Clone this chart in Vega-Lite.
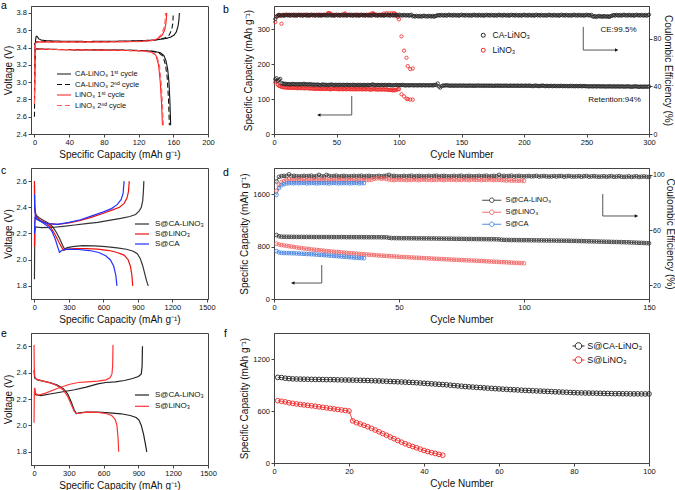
{
"$schema":"https://vega.github.io/schema/vega-lite/v6.json",
"padding":{"left":0,"top":0,"right":0,"bottom":0},
"background":"white",
"bounds":"flush",
"align":"each",
"columns":2,
"spacing":{"row":34,"column":66},
"resolve":{"scale":{"color":"independent","strokeDash":"independent"},"legend":{"color":"independent","strokeDash":"independent"}},
"config":{
 "font":"Liberation Sans",
 "view":{"stroke":"#444","strokeWidth":1},
 "axis":{"grid":false,"tickSize":3,"tickColor":"#444","domainColor":"#444","labelFontSize":7.5,"labelColor":"#111","labelPadding":1.5,"titleFontSize":10,"titleFontWeight":"normal","titleColor":"#111","titlePadding":3,"labelFlush":false,"labelOverlap":false},
 "legend":{"labelColor":"#111","labelFont":"Liberation Sans"},
 "title":{"fontSize":10.5,"fontWeight":"normal","anchor":"start","frame":"group","offset":0,"baseline":"alphabetic","color":"#000"},
 "point":{"opacity":1}
},
"datasets":{
"a":[
{"s":"a1","g":"c","k":1,"x":0,"v":2.85},{"s":"a1","g":"c","k":2,"x":0.5,"v":3.3},{"s":"a1","g":"c","k":3,"x":1.2,"v":3.48},{"s":"a1","g":"c","k":4,"x":2,"v":3.53},{"s":"a1","g":"c","k":5,"x":3,"v":3.53},{"s":"a1","g":"c","k":6,"x":5,"v":3.5},{"s":"a1","g":"c","k":7,"x":8,"v":3.485},{"s":"a1","g":"c","k":8,"x":15,"v":3.478},{"s":"a1","g":"c","k":9,"x":30,"v":3.473},{"s":"a1","g":"c","k":10,"x":60,"v":3.47},{"s":"a1","g":"c","k":11,"x":90,"v":3.472},{"s":"a1","g":"c","k":12,"x":120,"v":3.478},{"s":"a1","g":"c","k":13,"x":135,"v":3.485},{"s":"a1","g":"c","k":14,"x":145,"v":3.495},{"s":"a1","g":"c","k":15,"x":152,"v":3.505},{"s":"a1","g":"c","k":16,"x":157,"v":3.52},{"s":"a1","g":"c","k":17,"x":161,"v":3.545},{"s":"a1","g":"c","k":18,"x":163.5,"v":3.58},{"s":"a1","g":"c","k":19,"x":165.5,"v":3.65},{"s":"a1","g":"c","k":20,"x":166.5,"v":3.72},{"s":"a1","g":"c","k":21,"x":167,"v":3.8},
{"s":"a1","g":"d","k":1,"x":0,"v":3.45},{"s":"a1","g":"d","k":2,"x":0.5,"v":3.4},{"s":"a1","g":"d","k":3,"x":2,"v":3.385},{"s":"a1","g":"d","k":4,"x":10,"v":3.38},{"s":"a1","g":"d","k":5,"x":50,"v":3.375},{"s":"a1","g":"d","k":6,"x":100,"v":3.37},{"s":"a1","g":"d","k":7,"x":125,"v":3.365},{"s":"a1","g":"d","k":8,"x":138,"v":3.355},{"s":"a1","g":"d","k":9,"x":145,"v":3.34},{"s":"a1","g":"d","k":10,"x":149,"v":3.31},{"s":"a1","g":"d","k":11,"x":151.5,"v":3.25},{"s":"a1","g":"d","k":12,"x":153.5,"v":3.15},{"s":"a1","g":"d","k":13,"x":155,"v":3.0},{"s":"a1","g":"d","k":14,"x":156,"v":2.8},{"s":"a1","g":"d","k":15,"x":157,"v":2.5},
{"s":"a2","g":"c","k":1,"x":0,"v":2.6},{"s":"a2","g":"c","k":2,"x":0.4,"v":3.2},{"s":"a2","g":"c","k":3,"x":1.2,"v":3.45},{"s":"a2","g":"c","k":4,"x":3,"v":3.465},{"s":"a2","g":"c","k":5,"x":10,"v":3.468},{"s":"a2","g":"c","k":6,"x":60,"v":3.465},{"s":"a2","g":"c","k":7,"x":110,"v":3.47},{"s":"a2","g":"c","k":8,"x":130,"v":3.478},{"s":"a2","g":"c","k":9,"x":142,"v":3.49},{"s":"a2","g":"c","k":10,"x":150,"v":3.51},{"s":"a2","g":"c","k":11,"x":155,"v":3.54},{"s":"a2","g":"c","k":12,"x":158,"v":3.6},{"s":"a2","g":"c","k":13,"x":159.5,"v":3.68},{"s":"a2","g":"c","k":14,"x":160,"v":3.8},
{"s":"a2","g":"d","k":1,"x":0,"v":3.43},{"s":"a2","g":"d","k":2,"x":0.6,"v":3.39},{"s":"a2","g":"d","k":3,"x":3,"v":3.38},{"s":"a2","g":"d","k":4,"x":50,"v":3.373},{"s":"a2","g":"d","k":5,"x":110,"v":3.368},{"s":"a2","g":"d","k":6,"x":135,"v":3.358},{"s":"a2","g":"d","k":7,"x":143,"v":3.34},{"s":"a2","g":"d","k":8,"x":148,"v":3.3},{"s":"a2","g":"d","k":9,"x":151,"v":3.2},{"s":"a2","g":"d","k":10,"x":153,"v":3.05},{"s":"a2","g":"d","k":11,"x":154.5,"v":2.8},{"s":"a2","g":"d","k":12,"x":155.5,"v":2.5},
{"s":"b1","g":"c","k":1,"x":0,"v":2.75},{"s":"b1","g":"c","k":2,"x":0.4,"v":3.3},{"s":"b1","g":"c","k":3,"x":1.2,"v":3.45},{"s":"b1","g":"c","k":4,"x":3,"v":3.465},{"s":"b1","g":"c","k":5,"x":20,"v":3.465},{"s":"b1","g":"c","k":6,"x":80,"v":3.465},{"s":"b1","g":"c","k":7,"x":120,"v":3.47},{"s":"b1","g":"c","k":8,"x":135,"v":3.48},{"s":"b1","g":"c","k":9,"x":142,"v":3.5},{"s":"b1","g":"c","k":10,"x":147,"v":3.54},{"s":"b1","g":"c","k":11,"x":150,"v":3.6},{"s":"b1","g":"c","k":12,"x":151.5,"v":3.68},{"s":"b1","g":"c","k":13,"x":152.5,"v":3.8},
{"s":"b1","g":"d","k":1,"x":0,"v":3.43},{"s":"b1","g":"d","k":2,"x":0.6,"v":3.39},{"s":"b1","g":"d","k":3,"x":3,"v":3.38},{"s":"b1","g":"d","k":4,"x":50,"v":3.373},{"s":"b1","g":"d","k":5,"x":100,"v":3.367},{"s":"b1","g":"d","k":6,"x":125,"v":3.36},{"s":"b1","g":"d","k":7,"x":135,"v":3.345},{"s":"b1","g":"d","k":8,"x":140,"v":3.31},{"s":"b1","g":"d","k":9,"x":143,"v":3.2},{"s":"b1","g":"d","k":10,"x":145,"v":3.0},{"s":"b1","g":"d","k":11,"x":146.5,"v":2.75},{"s":"b1","g":"d","k":12,"x":147.5,"v":2.5},
{"s":"b2","g":"c","k":1,"x":0,"v":2.75},{"s":"b2","g":"c","k":2,"x":0.4,"v":3.3},{"s":"b2","g":"c","k":3,"x":1.2,"v":3.45},{"s":"b2","g":"c","k":4,"x":3,"v":3.462},{"s":"b2","g":"c","k":5,"x":80,"v":3.463},{"s":"b2","g":"c","k":6,"x":120,"v":3.468},{"s":"b2","g":"c","k":7,"x":134,"v":3.478},{"s":"b2","g":"c","k":8,"x":141,"v":3.5},{"s":"b2","g":"c","k":9,"x":146,"v":3.55},{"s":"b2","g":"c","k":10,"x":149,"v":3.62},{"s":"b2","g":"c","k":11,"x":150.5,"v":3.7},{"s":"b2","g":"c","k":12,"x":151,"v":3.8},
{"s":"b2","g":"d","k":1,"x":0,"v":3.43},{"s":"b2","g":"d","k":2,"x":0.6,"v":3.39},{"s":"b2","g":"d","k":3,"x":3,"v":3.38},{"s":"b2","g":"d","k":4,"x":100,"v":3.368},{"s":"b2","g":"d","k":5,"x":128,"v":3.36},{"s":"b2","g":"d","k":6,"x":137,"v":3.34},{"s":"b2","g":"d","k":7,"x":141,"v":3.3},{"s":"b2","g":"d","k":8,"x":144,"v":3.2},{"s":"b2","g":"d","k":9,"x":146,"v":3.0},{"s":"b2","g":"d","k":10,"x":147.5,"v":2.75},{"s":"b2","g":"d","k":11,"x":148.5,"v":2.5}
],
"c":[
{"s":"A","g":"d","k":1,"x":0,"v":2.57},{"s":"A","g":"d","k":2,"x":2,"v":2.42},{"s":"A","g":"d","k":3,"x":6,"v":2.37},{"s":"A","g":"d","k":4,"x":15,"v":2.34},{"s":"A","g":"d","k":5,"x":40,"v":2.32},{"s":"A","g":"d","k":6,"x":80,"v":2.3},{"s":"A","g":"d","k":7,"x":120,"v":2.28},{"s":"A","g":"d","k":8,"x":160,"v":2.25},{"s":"A","g":"d","k":9,"x":190,"v":2.21},{"s":"A","g":"d","k":10,"x":220,"v":2.16},{"s":"A","g":"d","k":11,"x":245,"v":2.11},{"s":"A","g":"d","k":12,"x":262,"v":2.08},{"s":"A","g":"d","k":13,"x":280,"v":2.09},{"s":"A","g":"d","k":14,"x":330,"v":2.1},{"s":"A","g":"d","k":15,"x":420,"v":2.107},{"s":"A","g":"d","k":16,"x":520,"v":2.105},{"s":"A","g":"d","k":17,"x":620,"v":2.1},{"s":"A","g":"d","k":18,"x":720,"v":2.09},{"s":"A","g":"d","k":19,"x":800,"v":2.08},{"s":"A","g":"d","k":20,"x":860,"v":2.065},{"s":"A","g":"d","k":21,"x":895,"v":2.045},{"s":"A","g":"d","k":22,"x":920,"v":2.01},{"s":"A","g":"d","k":23,"x":940,"v":1.96},{"s":"A","g":"d","k":24,"x":958,"v":1.9},{"s":"A","g":"d","k":25,"x":975,"v":1.84},{"s":"A","g":"d","k":26,"x":990,"v":1.8},
{"s":"A","g":"c","k":1,"x":0,"v":1.85},{"s":"A","g":"c","k":2,"x":1.5,"v":2.05},{"s":"A","g":"c","k":3,"x":3,"v":2.2},{"s":"A","g":"c","k":4,"x":8,"v":2.25},{"s":"A","g":"c","k":5,"x":60,"v":2.245},{"s":"A","g":"c","k":6,"x":150,"v":2.246},{"s":"A","g":"c","k":7,"x":250,"v":2.255},{"s":"A","g":"c","k":8,"x":350,"v":2.265},{"s":"A","g":"c","k":9,"x":450,"v":2.275},{"s":"A","g":"c","k":10,"x":550,"v":2.285},{"s":"A","g":"c","k":11,"x":650,"v":2.3},{"s":"A","g":"c","k":12,"x":750,"v":2.315},{"s":"A","g":"c","k":13,"x":830,"v":2.33},{"s":"A","g":"c","k":14,"x":880,"v":2.345},{"s":"A","g":"c","k":15,"x":910,"v":2.37},{"s":"A","g":"c","k":16,"x":930,"v":2.4},{"s":"A","g":"c","k":17,"x":942,"v":2.45},{"s":"A","g":"c","k":18,"x":948,"v":2.52},{"s":"A","g":"c","k":19,"x":952,"v":2.6},
{"s":"B","g":"d","k":1,"x":0,"v":2.6},{"s":"B","g":"d","k":2,"x":2,"v":2.42},{"s":"B","g":"d","k":3,"x":6,"v":2.36},{"s":"B","g":"d","k":4,"x":15,"v":2.33},{"s":"B","g":"d","k":5,"x":50,"v":2.3},{"s":"B","g":"d","k":6,"x":100,"v":2.28},{"s":"B","g":"d","k":7,"x":140,"v":2.25},{"s":"B","g":"d","k":8,"x":180,"v":2.19},{"s":"B","g":"d","k":9,"x":215,"v":2.13},{"s":"B","g":"d","k":10,"x":240,"v":2.09},{"s":"B","g":"d","k":11,"x":255,"v":2.07},{"s":"B","g":"d","k":12,"x":275,"v":2.08},{"s":"B","g":"d","k":13,"x":350,"v":2.085},{"s":"B","g":"d","k":14,"x":450,"v":2.085},{"s":"B","g":"d","k":15,"x":550,"v":2.08},{"s":"B","g":"d","k":16,"x":650,"v":2.07},{"s":"B","g":"d","k":17,"x":720,"v":2.055},{"s":"B","g":"d","k":18,"x":780,"v":2.035},{"s":"B","g":"d","k":19,"x":815,"v":2.0},{"s":"B","g":"d","k":20,"x":835,"v":1.95},{"s":"B","g":"d","k":21,"x":848,"v":1.88},{"s":"B","g":"d","k":22,"x":855,"v":1.8},
{"s":"B","g":"c","k":1,"x":0,"v":2.1},{"s":"B","g":"c","k":2,"x":2,"v":2.25},{"s":"B","g":"c","k":3,"x":6,"v":2.32},{"s":"B","g":"c","k":4,"x":20,"v":2.31},{"s":"B","g":"c","k":5,"x":60,"v":2.29},{"s":"B","g":"c","k":6,"x":120,"v":2.275},{"s":"B","g":"c","k":7,"x":200,"v":2.27},{"s":"B","g":"c","k":8,"x":300,"v":2.28},{"s":"B","g":"c","k":9,"x":400,"v":2.3},{"s":"B","g":"c","k":10,"x":500,"v":2.325},{"s":"B","g":"c","k":11,"x":600,"v":2.355},{"s":"B","g":"c","k":12,"x":680,"v":2.38},{"s":"B","g":"c","k":13,"x":740,"v":2.4},{"s":"B","g":"c","k":14,"x":780,"v":2.43},{"s":"B","g":"c","k":15,"x":805,"v":2.47},{"s":"B","g":"c","k":16,"x":818,"v":2.52},{"s":"B","g":"c","k":17,"x":825,"v":2.6},
{"s":"C","g":"d","k":1,"x":0,"v":2.5},{"s":"C","g":"d","k":2,"x":2,"v":2.4},{"s":"C","g":"d","k":3,"x":6,"v":2.35},{"s":"C","g":"d","k":4,"x":20,"v":2.31},{"s":"C","g":"d","k":5,"x":60,"v":2.29},{"s":"C","g":"d","k":6,"x":110,"v":2.26},{"s":"C","g":"d","k":7,"x":150,"v":2.22},{"s":"C","g":"d","k":8,"x":180,"v":2.16},{"s":"C","g":"d","k":9,"x":205,"v":2.09},{"s":"C","g":"d","k":10,"x":218,"v":2.055},{"s":"C","g":"d","k":11,"x":235,"v":2.07},{"s":"C","g":"d","k":12,"x":280,"v":2.08},{"s":"C","g":"d","k":13,"x":380,"v":2.078},{"s":"C","g":"d","k":14,"x":480,"v":2.07},{"s":"C","g":"d","k":15,"x":560,"v":2.055},{"s":"C","g":"d","k":16,"x":620,"v":2.03},{"s":"C","g":"d","k":17,"x":660,"v":2.0},{"s":"C","g":"d","k":18,"x":690,"v":1.95},{"s":"C","g":"d","k":19,"x":708,"v":1.88},{"s":"C","g":"d","k":20,"x":718,"v":1.8},
{"s":"C","g":"c","k":1,"x":0,"v":2.2},{"s":"C","g":"c","k":2,"x":2,"v":2.27},{"s":"C","g":"c","k":3,"x":6,"v":2.33},{"s":"C","g":"c","k":4,"x":20,"v":2.31},{"s":"C","g":"c","k":5,"x":60,"v":2.29},{"s":"C","g":"c","k":6,"x":120,"v":2.275},{"s":"C","g":"c","k":7,"x":200,"v":2.27},{"s":"C","g":"c","k":8,"x":300,"v":2.285},{"s":"C","g":"c","k":9,"x":400,"v":2.305},{"s":"C","g":"c","k":10,"x":500,"v":2.335},{"s":"C","g":"c","k":11,"x":600,"v":2.365},{"s":"C","g":"c","k":12,"x":670,"v":2.39},{"s":"C","g":"c","k":13,"x":720,"v":2.42},{"s":"C","g":"c","k":14,"x":755,"v":2.46},{"s":"C","g":"c","k":15,"x":772,"v":2.51},{"s":"C","g":"c","k":16,"x":780,"v":2.6}
],
"e":[
{"s":"A","g":"d","k":1,"x":0,"v":2.42},{"s":"A","g":"d","k":2,"x":5,"v":2.36},{"s":"A","g":"d","k":3,"x":30,"v":2.345},{"s":"A","g":"d","k":4,"x":80,"v":2.335},{"s":"A","g":"d","k":5,"x":150,"v":2.32},{"s":"A","g":"d","k":6,"x":200,"v":2.305},{"s":"A","g":"d","k":7,"x":250,"v":2.28},{"s":"A","g":"d","k":8,"x":290,"v":2.24},{"s":"A","g":"d","k":9,"x":320,"v":2.18},{"s":"A","g":"d","k":10,"x":345,"v":2.12},{"s":"A","g":"d","k":11,"x":365,"v":2.09},{"s":"A","g":"d","k":12,"x":390,"v":2.095},{"s":"A","g":"d","k":13,"x":450,"v":2.1},{"s":"A","g":"d","k":14,"x":550,"v":2.1},{"s":"A","g":"d","k":15,"x":650,"v":2.095},{"s":"A","g":"d","k":16,"x":750,"v":2.088},{"s":"A","g":"d","k":17,"x":830,"v":2.075},{"s":"A","g":"d","k":18,"x":880,"v":2.06},{"s":"A","g":"d","k":19,"x":905,"v":2.04},{"s":"A","g":"d","k":20,"x":925,"v":2.0},{"s":"A","g":"d","k":21,"x":945,"v":1.93},{"s":"A","g":"d","k":22,"x":960,"v":1.86},{"s":"A","g":"d","k":23,"x":972,"v":1.8},
{"s":"A","g":"c","k":1,"x":0,"v":2.24},{"s":"A","g":"c","k":2,"x":20,"v":2.23},{"s":"A","g":"c","k":3,"x":60,"v":2.225},{"s":"A","g":"c","k":4,"x":150,"v":2.24},{"s":"A","g":"c","k":5,"x":250,"v":2.255},{"s":"A","g":"c","k":6,"x":350,"v":2.27},{"s":"A","g":"c","k":7,"x":450,"v":2.29},{"s":"A","g":"c","k":8,"x":550,"v":2.315},{"s":"A","g":"c","k":9,"x":620,"v":2.325},{"s":"A","g":"c","k":10,"x":700,"v":2.33},{"s":"A","g":"c","k":11,"x":780,"v":2.34},{"s":"A","g":"c","k":12,"x":850,"v":2.355},{"s":"A","g":"c","k":13,"x":900,"v":2.37},{"s":"A","g":"c","k":14,"x":925,"v":2.39},{"s":"A","g":"c","k":15,"x":932,"v":2.45},{"s":"A","g":"c","k":16,"x":935,"v":2.6},
{"s":"B","g":"d","k":1,"x":0,"v":2.61},{"s":"B","g":"d","k":2,"x":2,"v":2.45},{"s":"B","g":"d","k":3,"x":6,"v":2.37},{"s":"B","g":"d","k":4,"x":20,"v":2.35},{"s":"B","g":"d","k":5,"x":80,"v":2.335},{"s":"B","g":"d","k":6,"x":150,"v":2.32},{"s":"B","g":"d","k":7,"x":200,"v":2.3},{"s":"B","g":"d","k":8,"x":250,"v":2.27},{"s":"B","g":"d","k":9,"x":290,"v":2.22},{"s":"B","g":"d","k":10,"x":320,"v":2.16},{"s":"B","g":"d","k":11,"x":345,"v":2.11},{"s":"B","g":"d","k":12,"x":362,"v":2.09},{"s":"B","g":"d","k":13,"x":380,"v":2.09},{"s":"B","g":"d","k":14,"x":450,"v":2.1},{"s":"B","g":"d","k":15,"x":550,"v":2.098},{"s":"B","g":"d","k":16,"x":620,"v":2.09},{"s":"B","g":"d","k":17,"x":670,"v":2.075},{"s":"B","g":"d","k":18,"x":700,"v":2.045},{"s":"B","g":"d","k":19,"x":715,"v":2.0},{"s":"B","g":"d","k":20,"x":725,"v":1.9},{"s":"B","g":"d","k":21,"x":730,"v":1.8},
{"s":"B","g":"c","k":1,"x":0,"v":2.02},{"s":"B","g":"c","k":2,"x":2,"v":2.2},{"s":"B","g":"c","k":3,"x":4,"v":2.28},{"s":"B","g":"c","k":4,"x":8,"v":2.28},{"s":"B","g":"c","k":5,"x":15,"v":2.24},{"s":"B","g":"c","k":6,"x":40,"v":2.23},{"s":"B","g":"c","k":7,"x":100,"v":2.245},{"s":"B","g":"c","k":8,"x":200,"v":2.28},{"s":"B","g":"c","k":9,"x":300,"v":2.31},{"s":"B","g":"c","k":10,"x":380,"v":2.325},{"s":"B","g":"c","k":11,"x":460,"v":2.33},{"s":"B","g":"c","k":12,"x":550,"v":2.335},{"s":"B","g":"c","k":13,"x":620,"v":2.345},{"s":"B","g":"c","k":14,"x":655,"v":2.36},{"s":"B","g":"c","k":15,"x":672,"v":2.39},{"s":"B","g":"c","k":16,"x":678,"v":2.45},{"s":"B","g":"c","k":17,"x":681,"v":2.61}
],
"b":[
{"n":1,"s":"B","c":148,"e":94},{"n":2,"s":"B","c":151,"e":98.5},{"n":3,"s":"B","c":141,"e":99.5},{"n":4,"s":"B","c":138,"e":99.8},{"n":5,"s":"B","c":137,"e":99.2},{"n":6,"s":"B","c":135,"e":92.6},{"n":7,"s":"B","c":134,"e":99.7},{"n":8,"s":"B","c":134,"e":100.1},{"n":9,"s":"B","c":133,"e":99.9},{"n":10,"s":"B","c":133,"e":100},
{"n":11,"s":"B","c":133,"e":99.8},{"n":12,"s":"B","c":132,"e":100.2},{"n":13,"s":"B","c":133,"e":99.6},{"n":14,"s":"B","c":132,"e":100},{"n":15,"s":"B","c":132,"e":99.9},{"n":16,"s":"B","c":133,"e":100.3},{"n":17,"s":"B","c":132,"e":99.7},{"n":18,"s":"B","c":132,"e":100.1},{"n":19,"s":"B","c":131,"e":99.9},{"n":20,"s":"B","c":132,"e":100},
{"n":21,"s":"B","c":132,"e":99.8},{"n":22,"s":"B","c":131,"e":100.2},{"n":23,"s":"B","c":132,"e":99.6},{"n":24,"s":"B","c":131,"e":100},{"n":25,"s":"B","c":131,"e":99.9},{"n":26,"s":"B","c":132,"e":100.3},{"n":27,"s":"B","c":131,"e":99.7},{"n":28,"s":"B","c":131,"e":100.1},{"n":29,"s":"B","c":130,"e":99.9},{"n":30,"s":"B","c":131,"e":100},
{"n":31,"s":"B","c":130,"e":99.8},{"n":32,"s":"B","c":130,"e":100.2},{"n":33,"s":"B","c":129,"e":99.6},{"n":34,"s":"B","c":130,"e":100},{"n":35,"s":"B","c":129,"e":99.9},{"n":36,"s":"B","c":130,"e":100.3},{"n":37,"s":"B","c":129,"e":99.7},{"n":38,"s":"B","c":129,"e":100.1},{"n":39,"s":"B","c":130,"e":99.9},{"n":40,"s":"B","c":129,"e":100},
{"n":41,"s":"B","c":129,"e":99.8},{"n":42,"s":"B","c":130,"e":100.2},{"n":43,"s":"B","c":129,"e":101.3},{"n":44,"s":"B","c":129,"e":101.6},{"n":45,"s":"B","c":128,"e":101.2},{"n":46,"s":"B","c":129,"e":100.3},{"n":47,"s":"B","c":129,"e":99.7},{"n":48,"s":"B","c":130,"e":100.1},{"n":49,"s":"B","c":129,"e":99.9},{"n":50,"s":"B","c":129,"e":100},
{"n":51,"s":"B","c":129,"e":99.8},{"n":52,"s":"B","c":128,"e":100.2},{"n":53,"s":"B","c":129,"e":99.6},{"n":54,"s":"B","c":129,"e":100},{"n":55,"s":"B","c":128,"e":99.9},{"n":56,"s":"B","c":129,"e":101},{"n":57,"s":"B","c":129,"e":101.2},{"n":58,"s":"B","c":128,"e":100.1},{"n":59,"s":"B","c":129,"e":99.9},{"n":60,"s":"B","c":129,"e":100},
{"n":61,"s":"B","c":128,"e":99.8},{"n":62,"s":"B","c":129,"e":100.2},{"n":63,"s":"B","c":128,"e":99.6},{"n":64,"s":"B","c":129,"e":100},{"n":65,"s":"B","c":128,"e":99.9},{"n":66,"s":"B","c":128,"e":100.3},{"n":67,"s":"B","c":129,"e":99.7},{"n":68,"s":"B","c":128,"e":100.1},{"n":69,"s":"B","c":129,"e":99.9},{"n":70,"s":"B","c":128,"e":100},
{"n":71,"s":"B","c":128,"e":99.8},{"n":72,"s":"B","c":129,"e":100.2},{"n":73,"s":"B","c":128,"e":99.6},{"n":74,"s":"B","c":128,"e":100},{"n":75,"s":"B","c":129,"e":99.9},{"n":76,"s":"B","c":128,"e":100.3},{"n":77,"s":"B","c":127,"e":99.7},{"n":78,"s":"B","c":128,"e":101.1},{"n":79,"s":"B","c":128,"e":101.4},{"n":80,"s":"B","c":129,"e":101},
{"n":81,"s":"B","c":128,"e":99.8},{"n":82,"s":"B","c":128,"e":100.2},{"n":83,"s":"B","c":127,"e":99.6},{"n":84,"s":"B","c":128,"e":100},{"n":85,"s":"B","c":128,"e":99.9},{"n":86,"s":"B","c":127,"e":100.3},{"n":87,"s":"B","c":128,"e":99.7},{"n":88,"s":"B","c":128,"e":101.2},{"n":89,"s":"B","c":127,"e":99.9},{"n":90,"s":"B","c":128,"e":101.4},
{"n":91,"s":"B","c":127,"e":99.8},{"n":92,"s":"B","c":126,"e":101.3},{"n":93,"s":"B","c":127,"e":99.6},{"n":94,"s":"B","c":126,"e":101.5},{"n":95,"s":"B","c":125,"e":99.9},{"n":96,"s":"B","c":126,"e":101.4},{"n":97,"s":"B","c":125,"e":101},{"n":98,"s":"B","c":127,"e":100.1},{"n":99,"s":"B","c":128,"e":98.3},{"n":100,"s":"B","c":128.6,"e":96.3},
{"n":102,"s":"B","c":114,"e":82},{"n":104,"s":"B","c":108,"e":70},{"n":106,"s":"B","c":101.5,"e":64},{"n":107,"s":"B","c":100,"e":57},{"n":109,"s":"B","c":98.6,"e":54.5},{"n":111,"s":"B","c":98.6,"e":55},
{"n":1,"s":"A","c":157,"e":96.5},{"n":2,"s":"A","c":160,"e":98.6},{"n":3,"s":"A","c":152,"e":99.4},{"n":4,"s":"A","c":155,"e":100.1},{"n":5,"s":"A","c":158,"e":99.7},{"n":6,"s":"A","c":146,"e":99.5},{"n":7,"s":"A","c":145,"e":100},{"n":8,"s":"A","c":144,"e":99.3},{"n":9,"s":"A","c":144,"e":99.8},{"n":10,"s":"A","c":143,"e":100.2},
{"n":11,"s":"A","c":143,"e":99.6},{"n":12,"s":"A","c":143,"e":99.9},{"n":13,"s":"A","c":142,"e":99.4},{"n":14,"s":"A","c":143,"e":100.1},{"n":15,"s":"A","c":144,"e":99.7},{"n":16,"s":"A","c":143,"e":99.5},{"n":17,"s":"A","c":142,"e":100},{"n":18,"s":"A","c":143,"e":99.3},{"n":19,"s":"A","c":143,"e":99.8},{"n":20,"s":"A","c":142,"e":100.2},
{"n":21,"s":"A","c":143,"e":99.6},{"n":22,"s":"A","c":142,"e":99.9},{"n":23,"s":"A","c":143,"e":99.4},{"n":24,"s":"A","c":144,"e":100.1},{"n":25,"s":"A","c":142,"e":99.7},{"n":26,"s":"A","c":143,"e":99.5},{"n":27,"s":"A","c":142,"e":100},{"n":28,"s":"A","c":142,"e":99.3},{"n":29,"s":"A","c":143,"e":99.8},{"n":30,"s":"A","c":142,"e":100.2},
{"n":31,"s":"A","c":141,"e":99.6},{"n":32,"s":"A","c":142,"e":99.9},{"n":33,"s":"A","c":141,"e":99.4},{"n":34,"s":"A","c":141,"e":100.1},{"n":35,"s":"A","c":142,"e":99.7},{"n":36,"s":"A","c":141,"e":99.5},{"n":37,"s":"A","c":140,"e":100},{"n":38,"s":"A","c":141,"e":99.3},{"n":39,"s":"A","c":142,"e":99.8},{"n":40,"s":"A","c":141,"e":100.2},
{"n":41,"s":"A","c":141,"e":99.6},{"n":42,"s":"A","c":141,"e":99.9},{"n":43,"s":"A","c":140,"e":99.4},{"n":44,"s":"A","c":141,"e":100.1},{"n":45,"s":"A","c":141,"e":99.7},{"n":46,"s":"A","c":142,"e":99.5},{"n":47,"s":"A","c":141,"e":100},{"n":48,"s":"A","c":140,"e":99.3},{"n":49,"s":"A","c":141,"e":99.8},{"n":50,"s":"A","c":141,"e":100.2},
{"n":51,"s":"A","c":140,"e":99.6},{"n":52,"s":"A","c":141,"e":99.9},{"n":53,"s":"A","c":141,"e":99.4},{"n":54,"s":"A","c":140,"e":100.1},{"n":55,"s":"A","c":141,"e":99.7},{"n":56,"s":"A","c":141,"e":99.5},{"n":57,"s":"A","c":140,"e":100},{"n":58,"s":"A","c":141,"e":99.3},{"n":59,"s":"A","c":141,"e":99.8},{"n":60,"s":"A","c":140,"e":100.2},
{"n":61,"s":"A","c":141,"e":99.6},{"n":62,"s":"A","c":140,"e":99.9},{"n":63,"s":"A","c":141,"e":99.4},{"n":64,"s":"A","c":141,"e":100.1},{"n":65,"s":"A","c":140,"e":99.7},{"n":66,"s":"A","c":140,"e":99.5},{"n":67,"s":"A","c":141,"e":100},{"n":68,"s":"A","c":140,"e":99.3},{"n":69,"s":"A","c":141,"e":99.8},{"n":70,"s":"A","c":140,"e":100.2},
{"n":71,"s":"A","c":140,"e":99.6},{"n":72,"s":"A","c":141,"e":99.9},{"n":73,"s":"A","c":140,"e":99.4},{"n":74,"s":"A","c":140,"e":100.1},{"n":75,"s":"A","c":141,"e":99.7},{"n":76,"s":"A","c":140,"e":99.5},{"n":77,"s":"A","c":140,"e":100},{"n":78,"s":"A","c":141,"e":99.3},{"n":79,"s":"A","c":142,"e":99.8},{"n":80,"s":"A","c":141,"e":100.2},
{"n":81,"s":"A","c":140,"e":99.6},{"n":82,"s":"A","c":140,"e":99.9},{"n":83,"s":"A","c":141,"e":99.4},{"n":84,"s":"A","c":140,"e":100.1},{"n":85,"s":"A","c":140,"e":99.7},{"n":86,"s":"A","c":141,"e":99.5},{"n":87,"s":"A","c":140,"e":100},{"n":88,"s":"A","c":140,"e":99.3},{"n":89,"s":"A","c":141,"e":99.8},{"n":90,"s":"A","c":140,"e":100.2},
{"n":91,"s":"A","c":140,"e":99.6},{"n":92,"s":"A","c":141,"e":99.9},{"n":93,"s":"A","c":140,"e":99.4},{"n":94,"s":"A","c":140,"e":100.1},{"n":95,"s":"A","c":139,"e":99.7},{"n":96,"s":"A","c":140,"e":99.5},{"n":97,"s":"A","c":140,"e":100},{"n":98,"s":"A","c":141,"e":99.3},{"n":99,"s":"A","c":140,"e":99.8},{"n":100,"s":"A","c":140,"e":100.2},
{"n":101,"s":"A","c":140,"e":99.6},{"n":102,"s":"A","c":140,"e":99.9},{"n":103,"s":"A","c":141,"e":99.4},{"n":104,"s":"A","c":140,"e":100.1},{"n":105,"s":"A","c":139,"e":99.7},{"n":106,"s":"A","c":140,"e":99.5},{"n":107,"s":"A","c":140,"e":100},{"n":108,"s":"A","c":139,"e":99.3},{"n":109,"s":"A","c":140,"e":99.8},{"n":110,"s":"A","c":140,"e":100.2},
{"n":111,"s":"A","c":140,"e":98.8},{"n":112,"s":"A","c":139,"e":99.1},{"n":113,"s":"A","c":140,"e":98.6},{"n":114,"s":"A","c":140,"e":99.3},{"n":115,"s":"A","c":139,"e":98.9},{"n":116,"s":"A","c":140,"e":98.7},{"n":117,"s":"A","c":140,"e":99.2},{"n":118,"s":"A","c":139,"e":98.5},{"n":119,"s":"A","c":140,"e":99},{"n":120,"s":"A","c":140,"e":99.4},
{"n":121,"s":"A","c":139,"e":98.8},{"n":122,"s":"A","c":140,"e":99.1},{"n":123,"s":"A","c":140,"e":98.6},{"n":124,"s":"A","c":139,"e":99.3},{"n":125,"s":"A","c":140,"e":98.9},{"n":126,"s":"A","c":140,"e":98.7},{"n":127,"s":"A","c":139,"e":99.2},{"n":128,"s":"A","c":140,"e":98.5},{"n":129,"s":"A","c":141,"e":99},{"n":130,"s":"A","c":140,"e":99.4},
{"n":131,"s":"A","c":145,"e":99.6},{"n":132,"s":"A","c":136,"e":99.9},{"n":133,"s":"A","c":133,"e":99.4},{"n":134,"s":"A","c":137,"e":100.1},{"n":135,"s":"A","c":139,"e":99.7},{"n":136,"s":"A","c":139,"e":99.5},{"n":137,"s":"A","c":139,"e":100},{"n":138,"s":"A","c":140,"e":99.3},{"n":139,"s":"A","c":139,"e":99.8},{"n":140,"s":"A","c":139,"e":100.2},
{"n":141,"s":"A","c":138,"e":99.6},{"n":142,"s":"A","c":139,"e":99.9},{"n":143,"s":"A","c":139,"e":99.4},{"n":144,"s":"A","c":138,"e":100.1},{"n":145,"s":"A","c":139,"e":99.7},{"n":146,"s":"A","c":139,"e":99.5},{"n":147,"s":"A","c":138,"e":100},{"n":148,"s":"A","c":139,"e":99.3},{"n":149,"s":"A","c":139,"e":99.8},{"n":150,"s":"A","c":138,"e":100.2},
{"n":151,"s":"A","c":139,"e":99.6},{"n":152,"s":"A","c":139,"e":99.9},{"n":153,"s":"A","c":138,"e":99.4},{"n":154,"s":"A","c":139,"e":100.1},{"n":155,"s":"A","c":138,"e":99.7},{"n":156,"s":"A","c":139,"e":99.5},{"n":157,"s":"A","c":139,"e":100},{"n":158,"s":"A","c":138,"e":99.3},{"n":159,"s":"A","c":139,"e":99.8},{"n":160,"s":"A","c":138,"e":100.2},
{"n":161,"s":"A","c":139,"e":99.6},{"n":162,"s":"A","c":138,"e":99.9},{"n":163,"s":"A","c":139,"e":99.4},{"n":164,"s":"A","c":139,"e":100.1},{"n":165,"s":"A","c":138,"e":99.7},{"n":166,"s":"A","c":139,"e":99.5},{"n":167,"s":"A","c":138,"e":100},{"n":168,"s":"A","c":139,"e":99.3},{"n":169,"s":"A","c":138,"e":99.8},{"n":170,"s":"A","c":139,"e":100.2},
{"n":171,"s":"A","c":138,"e":99.6},{"n":172,"s":"A","c":139,"e":99.9},{"n":173,"s":"A","c":138,"e":99.4},{"n":174,"s":"A","c":139,"e":100.1},{"n":175,"s":"A","c":138,"e":99.7},{"n":176,"s":"A","c":138,"e":99.5},{"n":177,"s":"A","c":139,"e":100},{"n":178,"s":"A","c":138,"e":99.3},{"n":179,"s":"A","c":139,"e":99.8},{"n":180,"s":"A","c":138,"e":100.2},
{"n":181,"s":"A","c":139,"e":99.6},{"n":182,"s":"A","c":138,"e":99.9},{"n":183,"s":"A","c":138,"e":99.4},{"n":184,"s":"A","c":139,"e":100.1},{"n":185,"s":"A","c":138,"e":99.7},{"n":186,"s":"A","c":139,"e":99.5},{"n":187,"s":"A","c":138,"e":100},{"n":188,"s":"A","c":138,"e":99.3},{"n":189,"s":"A","c":139,"e":99.8},{"n":190,"s":"A","c":138,"e":100.2},
{"n":191,"s":"A","c":138,"e":99.6},{"n":192,"s":"A","c":139,"e":99.9},{"n":193,"s":"A","c":138,"e":99.4},{"n":194,"s":"A","c":138,"e":100.1},{"n":195,"s":"A","c":139,"e":99.7},{"n":196,"s":"A","c":138,"e":99.5},{"n":197,"s":"A","c":138,"e":100},{"n":198,"s":"A","c":139,"e":99.3},{"n":199,"s":"A","c":138,"e":99.8},{"n":200,"s":"A","c":138,"e":100.2},
{"n":201,"s":"A","c":139,"e":99.6},{"n":202,"s":"A","c":138,"e":99.9},{"n":203,"s":"A","c":138,"e":99.4},{"n":204,"s":"A","c":139,"e":100.1},{"n":205,"s":"A","c":138,"e":99.7},{"n":206,"s":"A","c":138,"e":99.5},{"n":207,"s":"A","c":137,"e":100},{"n":208,"s":"A","c":138,"e":99.3},{"n":209,"s":"A","c":139,"e":99.8},{"n":210,"s":"A","c":138,"e":100.2},
{"n":211,"s":"A","c":138,"e":99.6},{"n":212,"s":"A","c":137,"e":99.9},{"n":213,"s":"A","c":138,"e":99.4},{"n":214,"s":"A","c":138,"e":100.1},{"n":215,"s":"A","c":139,"e":99.7},{"n":216,"s":"A","c":138,"e":99.5},{"n":217,"s":"A","c":137,"e":100},{"n":218,"s":"A","c":138,"e":99.3},{"n":219,"s":"A","c":138,"e":99.8},{"n":220,"s":"A","c":137,"e":100.2},
{"n":221,"s":"A","c":138,"e":99.6},{"n":222,"s":"A","c":138,"e":99.9},{"n":223,"s":"A","c":137,"e":99.4},{"n":224,"s":"A","c":138,"e":100.1},{"n":225,"s":"A","c":138,"e":99.7},{"n":226,"s":"A","c":137,"e":99.5},{"n":227,"s":"A","c":138,"e":100},{"n":228,"s":"A","c":137,"e":99.3},{"n":229,"s":"A","c":138,"e":99.8},{"n":230,"s":"A","c":138,"e":100.2},
{"n":231,"s":"A","c":137,"e":99.6},{"n":232,"s":"A","c":138,"e":99.9},{"n":233,"s":"A","c":137,"e":99.4},{"n":234,"s":"A","c":138,"e":100.1},{"n":235,"s":"A","c":137,"e":99.7},{"n":236,"s":"A","c":137,"e":99.5},{"n":237,"s":"A","c":138,"e":100},{"n":238,"s":"A","c":137,"e":99.3},{"n":239,"s":"A","c":138,"e":99.8},{"n":240,"s":"A","c":137,"e":100.2},
{"n":241,"s":"A","c":137,"e":99.6},{"n":242,"s":"A","c":138,"e":99.9},{"n":243,"s":"A","c":137,"e":99.4},{"n":244,"s":"A","c":137,"e":100.1},{"n":245,"s":"A","c":138,"e":99.7},{"n":246,"s":"A","c":137,"e":99.5},{"n":247,"s":"A","c":137,"e":100},{"n":248,"s":"A","c":138,"e":99.3},{"n":249,"s":"A","c":137,"e":99.8},{"n":250,"s":"A","c":137,"e":100.2},
{"n":251,"s":"A","c":137,"e":99.6},{"n":252,"s":"A","c":136,"e":99.9},{"n":253,"s":"A","c":137,"e":99.4},{"n":254,"s":"A","c":137,"e":100.1},{"n":255,"s":"A","c":136,"e":98.7},{"n":256,"s":"A","c":137,"e":98.5},{"n":257,"s":"A","c":137,"e":99},{"n":258,"s":"A","c":136,"e":98.3},{"n":259,"s":"A","c":137,"e":98.8},{"n":260,"s":"A","c":137,"e":99.2},
{"n":261,"s":"A","c":136,"e":98.6},{"n":262,"s":"A","c":137,"e":98.9},{"n":263,"s":"A","c":136,"e":98.4},{"n":264,"s":"A","c":137,"e":99.1},{"n":265,"s":"A","c":136,"e":98.7},{"n":266,"s":"A","c":136,"e":98.5},{"n":267,"s":"A","c":137,"e":99},{"n":268,"s":"A","c":136,"e":98.3},{"n":269,"s":"A","c":137,"e":98.8},{"n":270,"s":"A","c":136,"e":99.2},
{"n":271,"s":"A","c":136,"e":99.6},{"n":272,"s":"A","c":137,"e":99.9},{"n":273,"s":"A","c":136,"e":99.4},{"n":274,"s":"A","c":136,"e":100.1},{"n":275,"s":"A","c":137,"e":99.7},{"n":276,"s":"A","c":136,"e":99.5},{"n":277,"s":"A","c":136,"e":100},{"n":278,"s":"A","c":137,"e":99.3},{"n":279,"s":"A","c":136,"e":99.8},{"n":280,"s":"A","c":136,"e":100.2},
{"n":281,"s":"A","c":136,"e":99.6},{"n":282,"s":"A","c":136,"e":99.9},{"n":283,"s":"A","c":137,"e":99.4},{"n":284,"s":"A","c":136,"e":100.1},{"n":285,"s":"A","c":136,"e":99.7},{"n":286,"s":"A","c":135,"e":99.5},{"n":287,"s":"A","c":136,"e":100},{"n":288,"s":"A","c":136,"e":99.3},{"n":289,"s":"A","c":137,"e":99.8},{"n":290,"s":"A","c":136,"e":100.2},
{"n":291,"s":"A","c":136,"e":99.6},{"n":292,"s":"A","c":135,"e":99.9},{"n":293,"s":"A","c":136,"e":99.4},{"n":294,"s":"A","c":136,"e":100.1},{"n":295,"s":"A","c":135,"e":99.7},{"n":296,"s":"A","c":136,"e":99.5},{"n":297,"s":"A","c":136,"e":100},{"n":298,"s":"A","c":135,"e":99.3},{"n":299,"s":"A","c":136,"e":99.8},{"n":300,"s":"A","c":136,"e":100.2}
],
"d":[
{"n":1,"s":"A","c":977,"e":95.3},{"n":2,"s":"A","c":958,"e":98.6},{"n":3,"s":"A","c":952,"e":99.1},{"n":4,"s":"A","c":950,"e":99.3},{"n":5,"s":"A","c":950,"e":99.2},{"n":6,"s":"A","c":949,"e":100.4},{"n":7,"s":"A","c":949,"e":99.1},{"n":8,"s":"A","c":948,"e":99.3},{"n":9,"s":"A","c":948,"e":99},{"n":10,"s":"A","c":948,"e":98.9},
{"n":11,"s":"A","c":948,"e":99},{"n":12,"s":"A","c":947,"e":99.3},{"n":13,"s":"A","c":947,"e":98.9},{"n":14,"s":"A","c":947,"e":99.2},{"n":15,"s":"A","c":947,"e":99.4},{"n":16,"s":"A","c":946,"e":98.8},{"n":17,"s":"A","c":946,"e":99.1},{"n":18,"s":"A","c":946,"e":100},{"n":19,"s":"A","c":946,"e":99},{"n":20,"s":"A","c":946,"e":98.9},
{"n":21,"s":"A","c":946,"e":100},{"n":22,"s":"A","c":945,"e":99.3},{"n":23,"s":"A","c":945,"e":98.9},{"n":24,"s":"A","c":945,"e":99.2},{"n":25,"s":"A","c":945,"e":99.4},{"n":26,"s":"A","c":945,"e":98.8},{"n":27,"s":"A","c":945,"e":99.1},{"n":28,"s":"A","c":945,"e":99.3},{"n":29,"s":"A","c":944,"e":99},{"n":30,"s":"A","c":944,"e":98.9},
{"n":31,"s":"A","c":944,"e":99},{"n":32,"s":"A","c":944,"e":99.3},{"n":33,"s":"A","c":944,"e":98.9},{"n":34,"s":"A","c":944,"e":99.2},{"n":35,"s":"A","c":944,"e":99.4},{"n":36,"s":"A","c":943,"e":98.8},{"n":37,"s":"A","c":943,"e":99.1},{"n":38,"s":"A","c":943,"e":99.3},{"n":39,"s":"A","c":943,"e":99},{"n":40,"s":"A","c":943,"e":98.9},
{"n":41,"s":"A","c":943,"e":99},{"n":42,"s":"A","c":943,"e":99.3},{"n":43,"s":"A","c":942,"e":98.9},{"n":44,"s":"A","c":942,"e":99.2},{"n":45,"s":"A","c":942,"e":99.4},{"n":46,"s":"A","c":935,"e":100},{"n":47,"s":"A","c":930,"e":99.1},{"n":48,"s":"A","c":930,"e":99.3},{"n":49,"s":"A","c":929,"e":99},{"n":50,"s":"A","c":929,"e":98.9},
{"n":51,"s":"A","c":928,"e":99},{"n":52,"s":"A","c":928,"e":99.3},{"n":53,"s":"A","c":928,"e":98.9},{"n":54,"s":"A","c":927,"e":99.2},{"n":55,"s":"A","c":927,"e":99.4},{"n":56,"s":"A","c":927,"e":98.8},{"n":57,"s":"A","c":926,"e":99.1},{"n":58,"s":"A","c":926,"e":99.3},{"n":59,"s":"A","c":926,"e":99},{"n":60,"s":"A","c":925,"e":98.9},
{"n":61,"s":"A","c":925,"e":99},{"n":62,"s":"A","c":925,"e":99.3},{"n":63,"s":"A","c":924,"e":98.9},{"n":64,"s":"A","c":924,"e":99.2},{"n":65,"s":"A","c":923,"e":99.4},{"n":66,"s":"A","c":923,"e":98.8},{"n":67,"s":"A","c":922,"e":99.1},{"n":68,"s":"A","c":922,"e":99.3},{"n":69,"s":"A","c":921,"e":99},{"n":70,"s":"A","c":921,"e":98.9},
{"n":71,"s":"A","c":920,"e":99},{"n":72,"s":"A","c":920,"e":99.3},{"n":73,"s":"A","c":919,"e":98.9},{"n":74,"s":"A","c":919,"e":99.2},{"n":75,"s":"A","c":918,"e":99.4},{"n":76,"s":"A","c":918,"e":98.8},{"n":77,"s":"A","c":917,"e":99.1},{"n":78,"s":"A","c":917,"e":99.3},{"n":79,"s":"A","c":916,"e":99},{"n":80,"s":"A","c":916,"e":98.9},
{"n":81,"s":"A","c":915,"e":99},{"n":82,"s":"A","c":915,"e":99.3},{"n":83,"s":"A","c":914,"e":98.9},{"n":84,"s":"A","c":914,"e":99.2},{"n":85,"s":"A","c":913,"e":99.4},{"n":86,"s":"A","c":913,"e":98.8},{"n":87,"s":"A","c":912,"e":99.1},{"n":88,"s":"A","c":912,"e":99.3},{"n":89,"s":"A","c":911,"e":99},{"n":90,"s":"A","c":910,"e":100},
{"n":91,"s":"A","c":905,"e":99},{"n":92,"s":"A","c":903,"e":99.3},{"n":93,"s":"A","c":902,"e":98.9},{"n":94,"s":"A","c":901,"e":99.2},{"n":95,"s":"A","c":900,"e":99.4},{"n":96,"s":"A","c":900,"e":98.8},{"n":97,"s":"A","c":899,"e":99.1},{"n":98,"s":"A","c":899,"e":99.3},{"n":99,"s":"A","c":898,"e":99},{"n":100,"s":"A","c":898,"e":98.9},
{"n":101,"s":"A","c":898,"e":99},{"n":102,"s":"A","c":897,"e":99.2},{"n":103,"s":"A","c":897,"e":98.9},{"n":104,"s":"A","c":896,"e":99.1},{"n":105,"s":"A","c":896,"e":99.3},{"n":106,"s":"A","c":895,"e":98.8},{"n":107,"s":"A","c":895,"e":99},{"n":108,"s":"A","c":894,"e":99.2},{"n":109,"s":"A","c":894,"e":98.9},{"n":110,"s":"A","c":893,"e":98.8},
{"n":111,"s":"A","c":893,"e":98.9},{"n":112,"s":"A","c":892,"e":99.2},{"n":113,"s":"A","c":892,"e":98.8},{"n":114,"s":"A","c":891,"e":99.1},{"n":115,"s":"A","c":891,"e":99.2},{"n":116,"s":"A","c":890,"e":98.7},{"n":117,"s":"A","c":890,"e":99},{"n":118,"s":"A","c":889,"e":99.2},{"n":119,"s":"A","c":888,"e":98.9},{"n":120,"s":"A","c":887,"e":98.8},
{"n":121,"s":"A","c":886,"e":98.9},{"n":122,"s":"A","c":885,"e":99.1},{"n":123,"s":"A","c":884,"e":98.7},{"n":124,"s":"A","c":883,"e":99},{"n":125,"s":"A","c":882,"e":99.2},{"n":126,"s":"A","c":881,"e":98.7},{"n":127,"s":"A","c":880,"e":98.9},{"n":128,"s":"A","c":879,"e":99.1},{"n":129,"s":"A","c":878,"e":98.8},{"n":130,"s":"A","c":877,"e":98.7},
{"n":131,"s":"A","c":876,"e":98.8},{"n":132,"s":"A","c":875,"e":99},{"n":133,"s":"A","c":874,"e":98.6},{"n":134,"s":"A","c":873,"e":98.9},{"n":135,"s":"A","c":872,"e":99.1},{"n":136,"s":"A","c":871,"e":98.6},{"n":137,"s":"A","c":870,"e":98.8},{"n":138,"s":"A","c":869,"e":99},{"n":139,"s":"A","c":868,"e":98.7},{"n":140,"s":"A","c":867,"e":98.6},
{"n":141,"s":"A","c":866,"e":98.7},{"n":142,"s":"A","c":865,"e":98.9},{"n":143,"s":"A","c":863,"e":98.5},{"n":144,"s":"A","c":862,"e":98.8},{"n":145,"s":"A","c":860,"e":99},{"n":146,"s":"A","c":858,"e":98.5},{"n":147,"s":"A","c":857,"e":98.7},{"n":148,"s":"A","c":855,"e":98.9},{"n":149,"s":"A","c":853,"e":98.6},{"n":150,"s":"A","c":851,"e":98.5},
{"n":1,"s":"B","c":844,"e":88.5},{"n":2,"s":"B","c":832,"e":92.8},{"n":3,"s":"B","c":824,"e":94.8},{"n":4,"s":"B","c":818,"e":95.6},{"n":5,"s":"B","c":812,"e":96.3},{"n":6,"s":"B","c":806,"e":96.7},{"n":7,"s":"B","c":800,"e":96.4},{"n":8,"s":"B","c":794,"e":96.2},{"n":9,"s":"B","c":788,"e":96.5},{"n":10,"s":"B","c":782,"e":96.6},
{"n":11,"s":"B","c":777,"e":96.4},{"n":12,"s":"B","c":772,"e":96.6},{"n":13,"s":"B","c":767,"e":96.2},{"n":14,"s":"B","c":762,"e":96.5},{"n":15,"s":"B","c":757,"e":96.3},{"n":16,"s":"B","c":753,"e":96.7},{"n":17,"s":"B","c":749,"e":96.4},{"n":18,"s":"B","c":745,"e":96.2},{"n":19,"s":"B","c":741,"e":96.5},{"n":20,"s":"B","c":737,"e":96.6},
{"n":21,"s":"B","c":733,"e":96.4},{"n":22,"s":"B","c":729,"e":96.6},{"n":23,"s":"B","c":725,"e":96.2},{"n":24,"s":"B","c":722,"e":96.5},{"n":25,"s":"B","c":718,"e":96.3},{"n":26,"s":"B","c":715,"e":96.7},{"n":27,"s":"B","c":711,"e":96.4},{"n":28,"s":"B","c":708,"e":96.2},{"n":29,"s":"B","c":705,"e":96.5},{"n":30,"s":"B","c":701,"e":96.6},
{"n":31,"s":"B","c":698,"e":96.4},{"n":32,"s":"B","c":695,"e":96.6},{"n":33,"s":"B","c":692,"e":96.2},{"n":34,"s":"B","c":689,"e":96.5},{"n":35,"s":"B","c":686,"e":96.3},{"n":36,"s":"B","c":683,"e":96.7},{"n":37,"s":"B","c":680,"e":96.4},{"n":38,"s":"B","c":677,"e":96.2},{"n":39,"s":"B","c":674,"e":96.5},{"n":40,"s":"B","c":671,"e":97.2},
{"n":41,"s":"B","c":668,"e":97.4},{"n":42,"s":"B","c":665,"e":97.6},{"n":43,"s":"B","c":663,"e":97.2},{"n":44,"s":"B","c":660,"e":97.5},{"n":45,"s":"B","c":657,"e":97.1},{"n":46,"s":"B","c":655,"e":96.7},{"n":47,"s":"B","c":652,"e":96.4},{"n":48,"s":"B","c":650,"e":96.2},{"n":49,"s":"B","c":647,"e":96.5},{"n":50,"s":"B","c":645,"e":96.6},
{"n":51,"s":"B","c":642,"e":96.4},{"n":52,"s":"B","c":640,"e":96.6},{"n":53,"s":"B","c":638,"e":96.2},{"n":54,"s":"B","c":636,"e":96.5},{"n":55,"s":"B","c":634,"e":96.3},{"n":56,"s":"B","c":632,"e":96.7},{"n":57,"s":"B","c":630,"e":96.4},{"n":58,"s":"B","c":628,"e":96.2},{"n":59,"s":"B","c":626,"e":96.5},{"n":60,"s":"B","c":624,"e":96.6},
{"n":61,"s":"B","c":622,"e":96.4},{"n":62,"s":"B","c":620,"e":96.6},{"n":63,"s":"B","c":618,"e":96.2},{"n":64,"s":"B","c":616,"e":96.5},{"n":65,"s":"B","c":614,"e":96.3},{"n":66,"s":"B","c":612,"e":96.7},{"n":67,"s":"B","c":610,"e":96.4},{"n":68,"s":"B","c":608,"e":96.2},{"n":69,"s":"B","c":606,"e":96.5},{"n":70,"s":"B","c":604,"e":96.6},
{"n":71,"s":"B","c":602,"e":96.4},{"n":72,"s":"B","c":600,"e":96.6},{"n":73,"s":"B","c":598,"e":96.2},{"n":74,"s":"B","c":596,"e":96.5},{"n":75,"s":"B","c":595,"e":96.3},{"n":76,"s":"B","c":593,"e":96.7},{"n":77,"s":"B","c":591,"e":96.4},{"n":78,"s":"B","c":589,"e":96.2},{"n":79,"s":"B","c":588,"e":96.5},{"n":80,"s":"B","c":586,"e":96.6},
{"n":81,"s":"B","c":584,"e":96.4},{"n":82,"s":"B","c":582,"e":96.6},{"n":83,"s":"B","c":580,"e":96.2},{"n":84,"s":"B","c":578,"e":96.5},{"n":85,"s":"B","c":576,"e":96.3},{"n":86,"s":"B","c":574,"e":96.7},{"n":87,"s":"B","c":572,"e":96.4},{"n":88,"s":"B","c":570,"e":96.2},{"n":89,"s":"B","c":568,"e":96.5},{"n":90,"s":"B","c":566,"e":96.4},
{"n":91,"s":"B","c":564,"e":96.2},{"n":92,"s":"B","c":562,"e":96.1},{"n":93,"s":"B","c":560,"e":95.9},{"n":94,"s":"B","c":558,"e":96.1},{"n":95,"s":"B","c":556,"e":95.8},{"n":96,"s":"B","c":554,"e":96},{"n":97,"s":"B","c":552,"e":95.8},{"n":98,"s":"B","c":550,"e":95.7},{"n":99,"s":"B","c":548,"e":95.9},{"n":100,"s":"B","c":546,"e":95.6},
{"n":1,"s":"C","c":731,"e":85.5},{"n":2,"s":"C","c":712,"e":90.5},{"n":3,"s":"C","c":705,"e":92.5},{"n":4,"s":"C","c":703,"e":93.3},{"n":5,"s":"C","c":701,"e":93.8},{"n":6,"s":"C","c":700,"e":94},{"n":7,"s":"C","c":699,"e":94.1},{"n":8,"s":"C","c":698,"e":93.9},{"n":9,"s":"C","c":696,"e":94.2},{"n":10,"s":"C","c":694,"e":94},
{"n":11,"s":"C","c":692,"e":94.1},{"n":12,"s":"C","c":690,"e":94.3},{"n":13,"s":"C","c":688,"e":93.9},{"n":14,"s":"C","c":686,"e":94},{"n":15,"s":"C","c":684,"e":94.2},{"n":16,"s":"C","c":681,"e":94.1},{"n":17,"s":"C","c":678,"e":93.9},{"n":18,"s":"C","c":676,"e":94},{"n":19,"s":"C","c":673,"e":94.2},{"n":20,"s":"C","c":670,"e":94.1},
{"n":21,"s":"C","c":667,"e":94},{"n":22,"s":"C","c":664,"e":93.8},{"n":23,"s":"C","c":661,"e":94.1},{"n":24,"s":"C","c":658,"e":94.2},{"n":25,"s":"C","c":655,"e":94},{"n":26,"s":"C","c":652,"e":93.9},{"n":27,"s":"C","c":649,"e":94.1},{"n":28,"s":"C","c":646,"e":94},{"n":29,"s":"C","c":643,"e":94.2},{"n":30,"s":"C","c":640,"e":93.9},
{"n":31,"s":"C","c":636,"e":94},{"n":32,"s":"C","c":633,"e":94.1},{"n":33,"s":"C","c":630,"e":94.2},{"n":34,"s":"C","c":627,"e":93.9},{"n":35,"s":"C","c":625,"e":94},{"n":36,"s":"C","c":623,"e":94.1}
],
"f":[
{"n":1,"s":"A","c":988},{"n":2,"s":"A","c":986},{"n":3,"s":"A","c":978},{"n":4,"s":"A","c":974},{"n":5,"s":"A","c":971},{"n":6,"s":"A","c":969},{"n":7,"s":"A","c":968},{"n":8,"s":"A","c":967},{"n":9,"s":"A","c":966},{"n":10,"s":"A","c":965},
{"n":11,"s":"A","c":964},{"n":12,"s":"A","c":964},{"n":13,"s":"A","c":963},{"n":14,"s":"A","c":962},{"n":15,"s":"A","c":962},{"n":16,"s":"A","c":961},{"n":17,"s":"A","c":960},{"n":18,"s":"A","c":959},{"n":19,"s":"A","c":958},{"n":20,"s":"A","c":957},
{"n":21,"s":"A","c":956},{"n":22,"s":"A","c":955},{"n":23,"s":"A","c":954},{"n":24,"s":"A","c":953},{"n":25,"s":"A","c":952},{"n":26,"s":"A","c":950},{"n":27,"s":"A","c":949},{"n":28,"s":"A","c":947},{"n":29,"s":"A","c":945},{"n":30,"s":"A","c":943},
{"n":31,"s":"A","c":941},{"n":32,"s":"A","c":939},{"n":33,"s":"A","c":937},{"n":34,"s":"A","c":935},{"n":35,"s":"A","c":933},{"n":36,"s":"A","c":931},{"n":37,"s":"A","c":929},{"n":38,"s":"A","c":926},{"n":39,"s":"A","c":923},{"n":40,"s":"A","c":920},
{"n":41,"s":"A","c":917},{"n":42,"s":"A","c":914},{"n":43,"s":"A","c":911},{"n":44,"s":"A","c":908},{"n":45,"s":"A","c":905},{"n":46,"s":"A","c":902},{"n":47,"s":"A","c":898},{"n":48,"s":"A","c":894},{"n":49,"s":"A","c":890},{"n":50,"s":"A","c":886},
{"n":51,"s":"A","c":882},{"n":52,"s":"A","c":879},{"n":53,"s":"A","c":876},{"n":54,"s":"A","c":873},{"n":55,"s":"A","c":870},{"n":56,"s":"A","c":867},{"n":57,"s":"A","c":864},{"n":58,"s":"A","c":861},{"n":59,"s":"A","c":858},{"n":60,"s":"A","c":855},
{"n":61,"s":"A","c":852},{"n":62,"s":"A","c":850},{"n":63,"s":"A","c":847},{"n":64,"s":"A","c":845},{"n":65,"s":"A","c":843},{"n":66,"s":"A","c":840},{"n":67,"s":"A","c":838},{"n":68,"s":"A","c":836},{"n":69,"s":"A","c":834},{"n":70,"s":"A","c":832},
{"n":71,"s":"A","c":830},{"n":72,"s":"A","c":828},{"n":73,"s":"A","c":826},{"n":74,"s":"A","c":824},{"n":75,"s":"A","c":822},{"n":76,"s":"A","c":820},{"n":77,"s":"A","c":818},{"n":78,"s":"A","c":816},{"n":79,"s":"A","c":814},{"n":80,"s":"A","c":812},
{"n":81,"s":"A","c":810},{"n":82,"s":"A","c":809},{"n":83,"s":"A","c":808},{"n":84,"s":"A","c":807},{"n":85,"s":"A","c":806},{"n":86,"s":"A","c":805},{"n":87,"s":"A","c":804},{"n":88,"s":"A","c":803},{"n":89,"s":"A","c":802},{"n":90,"s":"A","c":801},
{"n":91,"s":"A","c":800},{"n":92,"s":"A","c":800},{"n":93,"s":"A","c":799},{"n":94,"s":"A","c":799},{"n":95,"s":"A","c":798},{"n":96,"s":"A","c":798},{"n":97,"s":"A","c":798},{"n":98,"s":"A","c":797},{"n":99,"s":"A","c":797},{"n":100,"s":"A","c":797},
{"n":1,"s":"B","c":719},{"n":2,"s":"B","c":712},{"n":3,"s":"B","c":705},{"n":4,"s":"B","c":695},{"n":5,"s":"B","c":688},{"n":6,"s":"B","c":682},{"n":7,"s":"B","c":676},{"n":8,"s":"B","c":670},{"n":9,"s":"B","c":665},{"n":10,"s":"B","c":660},
{"n":11,"s":"B","c":655},{"n":12,"s":"B","c":648},{"n":13,"s":"B","c":642},{"n":14,"s":"B","c":636},{"n":15,"s":"B","c":630},{"n":16,"s":"B","c":624},{"n":17,"s":"B","c":618},{"n":18,"s":"B","c":612},{"n":19,"s":"B","c":606},{"n":20,"s":"B","c":600},
{"n":21,"s":"B","c":486},{"n":22,"s":"B","c":465},{"n":23,"s":"B","c":450},{"n":24,"s":"B","c":435},{"n":25,"s":"B","c":418},{"n":26,"s":"B","c":400},{"n":27,"s":"B","c":380},{"n":28,"s":"B","c":360},{"n":29,"s":"B","c":340},{"n":30,"s":"B","c":320},
{"n":31,"s":"B","c":300},{"n":32,"s":"B","c":280},{"n":33,"s":"B","c":260},{"n":34,"s":"B","c":240},{"n":35,"s":"B","c":222},{"n":36,"s":"B","c":205},{"n":37,"s":"B","c":190},{"n":38,"s":"B","c":175},{"n":39,"s":"B","c":160},{"n":40,"s":"B","c":145},
{"n":41,"s":"B","c":132},{"n":42,"s":"B","c":120},{"n":43,"s":"B","c":110},{"n":44,"s":"B","c":100},{"n":45,"s":"B","c":90}
]
},
"concat":[
  {"width":177,"height":128,"title":{"text":"a","dx":-30,"dy":9},
   "data":{"name":"a"},
   "mark":{"type":"line","strokeWidth":1.1},
   "encoding":{
    "x":{"field":"x","type":"quantitative","scale":{"domain":[-4,200],"nice":false,"zero":false},"axis":{"values":[0,40,80,120,160,200],"title":"Specific Capacity (mAh g⁻¹)"}},
    "y":{"field":"v","type":"quantitative","scale":{"domain":[2.4,3.88],"nice":false,"zero":false},"axis":{"values":[2.4,2.6,2.8,3.0,3.2,3.4,3.6,3.8],"format":".1f","title":"Voltage (V)"}},
    "color":{"field":"s","type":"nominal","scale":{"domain":["a1","a2","b1","b2"],"range":["#111111","#111111","#ff1a1a","#ff5c5c"]},
      "legend":{"orient":"none","legendX":27,"legendY":62,"title":null,"symbolType":"M-1.4,0H1.4","symbolSize":100,"symbolStrokeWidth":1.2,"labelFontSize":7.5,"labelOffset":5,"rowPadding":0.5,"padding":0,"labelExpr":"datum.label=='a1'?'CA-LiNO₃ 1ˢᵗ cycle':datum.label=='a2'?'CA-LiNO₃ 2ⁿᵈ cycle':datum.label=='b1'?'LiNO₃ 1ˢᵗ cycle':'LiNO₃ 2ⁿᵈ cycle'"}},
    "strokeDash":{"field":"s","type":"nominal","scale":{"domain":["a1","a2","b1","b2"],"range":[[1,0],[5,3],[1,0],[5,3]]},
      "legend":{"orient":"none","legendX":27,"legendY":62,"title":null,"symbolType":"M-1.4,0H1.4","symbolSize":100,"symbolStrokeWidth":1.2,"labelFontSize":7.5,"labelOffset":5,"rowPadding":0.5,"padding":0,"labelExpr":"datum.label=='a1'?'CA-LiNO₃ 1ˢᵗ cycle':datum.label=='a2'?'CA-LiNO₃ 2ⁿᵈ cycle':datum.label=='b1'?'LiNO₃ 1ˢᵗ cycle':'LiNO₃ 2ⁿᵈ cycle'"}},
    "detail":{"field":"g"},
    "order":{"field":"k","type":"quantitative"}
   }},
  {"width":375,"height":128,"title":{"text":"b","dx":-51,"dy":13.5},
   "layer":[
    {"layer":[
     {"data":{"name":"b"},"mark":{"type":"point","size":11,"strokeWidth":0.8,"opacity":1},
      "encoding":{
       "x":{"field":"n","type":"quantitative","scale":{"domain":[0,300],"nice":false},"axis":{"values":[0,50,100,150,200,250,300],"title":"Cycle Number"}},
       "y":{"field":"c","type":"quantitative","scale":{"domain":[0,367],"nice":false},"axis":{"values":[0,50,100,150,200,250,300,350],"title":"Specific Capacity (mAh g⁻¹)","orient":"left"}},
       "color":{"field":"s","type":"nominal","scale":{"domain":["A","B"],"range":["#222222","#ee2222"]},
        "legend":{"orient":"none","legendX":205,"legendY":25,"title":null,"symbolType":"circle","symbolSize":16,"symbolStrokeWidth":1,"symbolFillColor":"transparent","labelFontSize":8.5,"labelOffset":5,"rowPadding":6,"padding":0,"labelExpr":"datum.label=='A'?'CA-LiNO₃':'LiNO₃'"}}}},
     {"data":{"values":[{"n":62.2,"c":109,"k":1},{"n":62.2,"c":54.5,"k":2},{"n":35,"c":54.5,"k":3}]},
      "mark":{"type":"line","color":"#555555","strokeWidth":1},
      "encoding":{"x":{"field":"n","type":"quantitative"},"y":{"field":"c","type":"quantitative"},"order":{"field":"k","type":"quantitative"}}},
     {"data":{"values":[{"n":36,"c":54.5}]},"mark":{"type":"point","shape":"triangle-left","filled":true,"color":"#111111","size":12,"opacity":1},
      "encoding":{"x":{"field":"n","type":"quantitative"},"y":{"field":"c","type":"quantitative"}}},
     {"data":{"values":[{"n":272.4,"c":97.5,"t":"Retention:94%"}]},"mark":{"type":"text","fontSize":8,"color":"#111111"},
      "encoding":{"x":{"field":"n","type":"quantitative"},"y":{"field":"c","type":"quantitative"},"text":{"field":"t"}}}
    ]},
    {"layer":[
     {"data":{"name":"b"},"mark":{"type":"point","size":11,"strokeWidth":0.8,"opacity":1},
      "encoding":{
       "x":{"field":"n","type":"quantitative"},
       "y":{"field":"e","type":"quantitative","scale":{"domain":[0,107.5],"nice":false},"axis":{"values":[0,20,40,60,80,100],"title":"Coulombic Efficiency (%)","orient":"right","labelFontSize":7,"labelPadding":1,"titlePadding":2}},
       "color":{"field":"s","type":"nominal","scale":{"domain":["A","B"],"range":["#222222","#ee2222"]}}}},
     {"data":{"values":[{"n":247.4,"e":89.9,"k":1},{"n":247.4,"e":70.5,"k":2},{"n":275,"e":70.5,"k":3}]},
      "mark":{"type":"line","color":"#555555","strokeWidth":1},
      "encoding":{"x":{"field":"n","type":"quantitative"},"y":{"field":"e","type":"quantitative"},"order":{"field":"k","type":"quantitative"}}},
     {"data":{"values":[{"n":274,"e":70.5}]},"mark":{"type":"point","shape":"triangle-right","filled":true,"color":"#111111","size":12,"opacity":1},
      "encoding":{"x":{"field":"n","type":"quantitative"},"y":{"field":"e","type":"quantitative"}}},
     {"data":{"values":[{"n":275.6,"e":87.3,"t":"CE:99.5%"}]},"mark":{"type":"text","fontSize":8,"color":"#111111"},
      "encoding":{"x":{"field":"n","type":"quantitative"},"y":{"field":"e","type":"quantitative"},"text":{"field":"t"}}}
    ]}
   ],
   "resolve":{"scale":{"y":"independent"}}},
  {"width":177,"height":131,"title":{"text":"c","dx":-30,"dy":12.5},
   "data":{"name":"c"},
   "mark":{"type":"line","strokeWidth":1.2},
   "encoding":{
    "x":{"field":"x","type":"quantitative","scale":{"domain":[-30,1510],"nice":false,"zero":false},"axis":{"values":[0,300,600,900,1200,1500],"format":"d","title":"Specific Capacity (mAh g⁻¹)"}},
    "y":{"field":"v","type":"quantitative","scale":{"domain":[1.7,2.7],"nice":false,"zero":false},"axis":{"values":[1.8,2.0,2.2,2.4,2.6],"format":".1f","title":"Voltage (V)"}},
    "color":{"field":"s","type":"nominal","scale":{"domain":["A","B","C"],"range":["#333333","#ee1111","#2233ff"]},
      "legend":{"orient":"none","legendX":105,"legendY":50,"title":null,"symbolType":"M-1.4,0H1.4","symbolSize":100,"symbolStrokeWidth":1.2,"labelFontSize":8,"labelOffset":7,"rowPadding":-0.5,"padding":0,"labelExpr":"datum.label=='A'?'S@CA-LiNO₃':datum.label=='B'?'S@LiNO₃':'S@CA'"}},
    "detail":{"field":"g"},
    "order":{"field":"k","type":"quantitative"}
   }},
  {"width":375,"height":131,"title":{"text":"d","dx":-51,"dy":14.5},
   "layer":[
    {"layer":[
     {"data":{"name":"d"},"mark":{"type":"line","strokeWidth":0.7},
      "encoding":{
       "x":{"field":"n","type":"quantitative","scale":{"domain":[0,150],"nice":false},"axis":{"values":[0,50,100,150],"title":"Cycle Number"}},
       "y":{"field":"c","type":"quantitative","scale":{"domain":[0,2000],"nice":false},"axis":{"values":[0,400,800,1200,1600,2000],"format":"d","title":"Specific Capacity (mAh g⁻¹)","orient":"left"}},
       "color":{"field":"s","type":"nominal","scale":{"domain":["A","B","C"],"range":["#333333","#f06060","#3f7fe0"]},
        "legend":{"orient":"none","legendX":214,"legendY":28.5,"title":null,"symbolType":"M-3.2,0H-0.75M0.75,0H3.2M0.75,0A0.75,0.75,0,1,1,-0.75,0A0.75,0.75,0,1,1,0.75,0","symbolSize":36,"symbolStrokeWidth":0.9,"symbolFillColor":"transparent","labelFontSize":7.5,"labelOffset":10,"rowPadding":3,"padding":0,"labelExpr":"datum.label=='A'?'S@CA-LiNO₃':datum.label=='B'?'S@LiNO₃':'S@CA'"}}}},
     {"data":{"name":"d"},"mark":{"type":"point","size":14,"strokeWidth":0.8,"opacity":1},
      "encoding":{"x":{"field":"n","type":"quantitative"},"y":{"field":"c","type":"quantitative"},
       "color":{"field":"s","type":"nominal","scale":{"domain":["A","B","C"],"range":["#333333","#f06060","#3f7fe0"]}}}},
     {"data":{"values":[{"n":19.1,"c":519,"k":1},{"n":19.1,"c":244,"k":2},{"n":7,"c":244,"k":3}]},
      "mark":{"type":"line","color":"#555555","strokeWidth":1},
      "encoding":{"x":{"field":"n","type":"quantitative"},"y":{"field":"c","type":"quantitative"},"order":{"field":"k","type":"quantitative"}}},
     {"data":{"values":[{"n":7.6,"c":244}]},"mark":{"type":"point","shape":"triangle-left","filled":true,"color":"#111111","size":12,"opacity":1},
      "encoding":{"x":{"field":"n","type":"quantitative"},"y":{"field":"c","type":"quantitative"}}}
    ]},
    {"layer":[
     {"data":{"name":"d"},"mark":{"type":"line","strokeWidth":0.7},
      "encoding":{
       "x":{"field":"n","type":"quantitative"},
       "y":{"field":"e","type":"quantitative","scale":{"domain":[10,105],"nice":false,"zero":false},"axis":{"values":[20,40,60,80,100],"title":"Coulombic Efficiency (%)","orient":"right","labelFontSize":7,"labelPadding":0.5,"titlePadding":0}},
       "color":{"field":"s","type":"nominal","scale":{"domain":["A","B","C"],"range":["#333333","#f06060","#3f7fe0"]}}}},
     {"data":{"name":"d"},"mark":{"type":"point","size":14,"strokeWidth":0.8,"opacity":1},
      "encoding":{"x":{"field":"n","type":"quantitative"},"y":{"field":"e","type":"quantitative"},
       "color":{"field":"s","type":"nominal","scale":{"domain":["A","B","C"],"range":["#333333","#f06060","#3f7fe0"]}}}},
     {"data":{"values":[{"n":131.5,"e":86.1,"k":1},{"n":131.5,"e":70.2,"k":2},{"n":145.5,"e":70.2,"k":3}]},
      "mark":{"type":"line","color":"#555555","strokeWidth":1},
      "encoding":{"x":{"field":"n","type":"quantitative"},"y":{"field":"e","type":"quantitative"},"order":{"field":"k","type":"quantitative"}}},
     {"data":{"values":[{"n":144.9,"e":70.2}]},"mark":{"type":"point","shape":"triangle-right","filled":true,"color":"#111111","size":12,"opacity":1},
      "encoding":{"x":{"field":"n","type":"quantitative"},"y":{"field":"e","type":"quantitative"}}}
    ]}
   ],
   "resolve":{"scale":{"y":"independent"}}},
  {"width":177,"height":132,"title":{"text":"e","dx":-30,"dy":10},
   "data":{"name":"e"},
   "mark":{"type":"line","strokeWidth":1.2},
   "encoding":{
    "x":{"field":"x","type":"quantitative","scale":{"domain":[-26,1500],"nice":false,"zero":false},"axis":{"values":[0,300,600,900,1200,1500],"format":"d","title":"Specific Capacity (mAh g⁻¹)"}},
    "y":{"field":"v","type":"quantitative","scale":{"domain":[1.7,2.7],"nice":false,"zero":false},"axis":{"values":[1.8,2.0,2.2,2.4,2.6],"format":".1f","title":"Voltage (V)"}},
    "color":{"field":"s","type":"nominal","scale":{"domain":["A","B"],"range":["#222222","#ff3333"]},
      "legend":{"orient":"none","legendX":105,"legendY":56,"title":null,"symbolType":"M-1.4,0H1.4","symbolSize":100,"symbolStrokeWidth":1.2,"labelFontSize":8,"labelOffset":7,"rowPadding":1.3,"padding":0,"labelExpr":"datum.label=='A'?'S@CA-LiNO₃':'S@LiNO₃'"}},
    "detail":{"field":"g"},
    "order":{"field":"k","type":"quantitative"}
   }},
  {"width":375,"height":130,"title":{"text":"f","dx":-50,"dy":10},
   "data":{"name":"f"},
   "layer":[
    {"mark":{"type":"line","strokeWidth":0.8},
     "encoding":{
      "x":{"field":"n","type":"quantitative","scale":{"domain":[0,100],"nice":false},"axis":{"values":[0,20,40,60,80,100],"title":"Cycle Number"}},
      "y":{"field":"c","type":"quantitative","scale":{"domain":[0,1500],"nice":false},"axis":{"values":[0,300,600,900,1200,1500],"format":"d","title":"Specific Capacity (mAh g⁻¹)"}},
      "color":{"field":"s","type":"nominal","scale":{"domain":["A","B"],"range":["#222222","#ee2222"]},
       "legend":{"orient":"none","legendX":300,"legendY":8.5,"title":null,"symbolType":"M-2,0H-1.1M1.1,0H2M1.1,0A1.1,1.1,0,1,1,-1.1,0A1.1,1.1,0,1,1,1.1,0","symbolSize":36,"symbolStrokeWidth":1,"symbolFillColor":"transparent","labelFontSize":9,"labelOffset":4.3,"rowPadding":3,"padding":0,"labelExpr":"datum.label=='A'?'S@CA-LiNO₃':'S@LiNO₃'"}}}},
    {"mark":{"type":"point","size":22,"strokeWidth":0.9,"opacity":1},
     "encoding":{"x":{"field":"n","type":"quantitative"},"y":{"field":"c","type":"quantitative"},
      "color":{"field":"s","type":"nominal","scale":{"domain":["A","B"],"range":["#222222","#ee2222"]}}}}
   ]}
]
}
